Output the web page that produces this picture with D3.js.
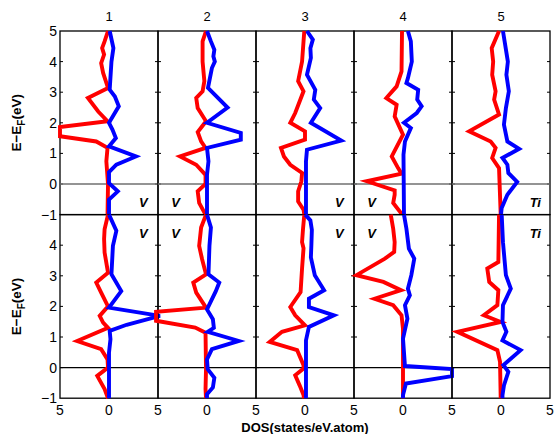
<!DOCTYPE html>
<html>
<head>
<meta charset="utf-8">
<script src="https://cdn.jsdelivr.net/npm/d3@7"></script>
<style>
  body { margin: 0; background: #fff; }
  text { font-family: "Liberation Sans", Arial, sans-serif; }
</style>
</head>
<body>
<div id="chart"></div>
<script>
// column titles, element labels, tick values
const columns = ["1", "2", "3", "4", "5"];
const elements = ["V", "V", "V", "V", "Ti"];
const energyTicks = [-1, 0, 1, 2, 3, 4, 5];
const dosTicks = [-5, 0, 5];

// DOS curves as [E - E_F, DOS] pairs; "up" is blue (right), "dn" is red (mirrored left)
// top row
const up11 = [[5,0.07],[4.44,0.45],[4.0,0.25],[3.08,0.07],[2.86,0.6],[2.54,1.0],[2.0,0.0],[1.78,0.35],[1.5,0.7],[1.23,0.0],[0.9,2.75],[0.63,0.75],[0.39,0.0],[0.03,0.0],[-0.24,0.9],[-0.51,0.0],[-1,0.0]];
const dn11 = [[5,0.1],[4.66,0.45],[4.44,0.7],[4.23,0.5],[3.95,0.8],[3.63,0.6],[3.14,0.1],[2.81,2.15],[2.37,1.1],[2.05,0.15],[1.86,5.0],[1.56,5.0],[1.39,1.3],[1.18,0.15],[0.74,0.27],[0,0.1],[-1,0.15]];
const up12 = [[5,0.0],[4.66,0.4],[4.39,0.75],[4.17,0.65],[4.0,0.8],[3.79,0.5],[3.14,0.1],[2.5,2.1],[2.0,0.0],[1.67,3.45],[1.45,3.45],[1.18,0.0],[0.74,0.15],[0.3,0.0],[-1,0.0]];
const dn12 = [[5,0.1],[4.66,0.45],[4.0,0.45],[3.36,0.27],[3.03,0.45],[2.81,1.1],[2.48,0.95],[2.05,0.1],[1.7,0.95],[1.39,0.6],[1.18,0.15],[0.9,2.75],[0.63,1.1],[0.3,0.15],[0,0.15],[-0.24,0.95],[-0.62,0.8],[-1,0.15]];
const up13 = [[5,0.2],[4.72,0.8],[4.44,0.55],[4.12,0.6],[3.57,0.2],[3.08,1.05],[2.76,0.9],[2.48,1.55],[2.0,0.6],[1.42,3.7],[1.12,0.2],[0.74,0.1],[-1,0.1]];
const dn13 = [[5,0.07],[4.66,0.15],[4.0,0.3],[3.36,0.7],[3.03,0.15],[2.32,1.0],[2.0,1.5],[1.72,0.0],[1.45,0.0],[1.18,2.45],[0.9,2.15],[0.63,1.5],[0.36,0.3],[0.09,0.37],[-0.24,0.7],[-0.57,0.7],[-0.84,0.15],[-1,0.07]];
const up14 = [[5,0.5],[4.66,0.8],[4.0,0.9],[3.46,0.5],[3.3,0.35],[3.08,1.55],[2.76,1.45],[2.54,1.9],[2.32,1.4],[2.0,0.1],[1.83,0.8],[1.39,0.2],[0.96,0.05],[-1,0.1]];
const dn14 = [[5,0.1],[3.68,0.15],[3.19,0.65],[2.81,1.7],[2.59,0.65],[2.21,0.85],[1.61,0.0],[0.9,1.15],[0.52,0.5],[0.34,0.15],[0.09,3.7],[-0.21,0.85],[-0.35,0.85],[-0.62,1.0],[-0.95,0.2],[-1,0.2]];
const up15 = [[5,0.2],[4.0,0.7],[3.57,0.55],[3.03,0.8],[2.48,0.5],[1.94,0.3],[1.39,0.65],[1.15,1.85],[0.85,0.15],[0.63,0.65],[0.36,0.75],[0.07,1.65],[-0.35,0.65],[-0.78,0.07],[-1,0.0]];
const dn15 = [[5,0.2],[4.44,0.95],[4.0,0.8],[3.57,0.9],[3.03,0.55],[2.76,0.7],[2.27,0.2],[1.72,3.25],[1.39,1.05],[1.18,0.55],[0.85,0.9],[0.52,0.2],[-1,0.03]];
// bottom row
const up21 = [[5,0.0],[4.47,0.75],[3.98,0.4],[3.05,0.25],[2.5,1.25],[1.96,0.0],[1.69,5.2],[1.4,1.8],[1.2,0.07],[0.93,0.15],[0.49,0.0],[-1,0.0]];
const dn21 = [[5,0.1],[4.52,0.45],[4.2,0.5],[3.76,0.45],[3.1,0.1],[2.78,1.3],[2.45,0.8],[2.0,0.1],[1.69,0.95],[1.47,0.6],[1.3,0.1],[0.87,3.25],[0.6,0.8],[0.27,0.15],[0,0.1],[-0.27,1.2],[-0.7,0.45],[-1,0.1]];
const up22 = [[5,0.0],[4.58,0.4],[3.98,0.25],[3.05,0.15],[2.78,1.25],[2.5,0.9],[1.9,0.0],[1.58,0.6],[1.3,0.7],[1.17,0.07],[0.87,3.25],[0.6,0.5],[0.27,0.0],[-0.05,0.07],[-0.33,0.75],[-0.65,0.6],[-0.87,0.0],[-1,0.0]];
const dn22 = [[5,0.1],[4.58,0.6],[3.98,0.8],[3.54,0.5],[3.05,0.1],[2.78,1.4],[2.45,1.1],[1.96,0.1],[1.82,5.2],[1.53,5.2],[1.31,1.2],[1.14,0.15],[-0.05,0.1],[-0.7,0.15],[-1,0.1]];
const up23 = [[5,0.03],[4.81,0.55],[4.5,0.7],[4.0,0.65],[3.6,0.6],[3.02,1.0],[2.53,1.95],[2.25,0.4],[1.98,0.4],[1.71,2.95],[1.33,0.4],[0.89,0.1],[-1,0.1]];
const dn23 = [[5,0.07],[4.54,0.2],[4.1,0.3],[3.9,0.15],[3.24,0.3],[2.47,0.45],[1.98,1.5],[1.71,1.0],[1.38,0.0],[1.17,2.35],[0.84,3.6],[0.57,0.8],[0.08,0.15],[-0.03,0.15],[-0.25,1.0],[-0.58,0.55],[-0.9,0.15],[-1,0.1]];
const up24 = [[5,0.1],[4.54,0.35],[3.89,0.6],[3.56,1.15],[3.02,0.85],[2.58,0.5],[2.36,0.7],[2.04,0.2],[1.6,0.45],[0.95,0.0],[0.05,0.2],[-0.05,5.0],[-0.28,5.0],[-0.52,0.3],[-0.9,0.0],[-1,0.0]];
const dn24 = [[5,1.25],[4.54,1.0],[4.1,0.85],[3.78,0.9],[3.56,1.85],[3.02,4.75],[2.8,2.0],[2.53,0.2],[2.25,2.9],[2.04,1.0],[1.71,0.15],[1.27,0.0],[-1,0.0]];
const up25 = [[5,0.07],[4.1,0.2],[3.02,0.5],[2.58,1.0],[2.04,0.2],[1.49,0.15],[1.17,0.55],[0.89,0.15],[0.57,2.0],[0.08,0.25],[-0.14,0.75],[-0.58,0.3],[-0.9,0.15],[-1,0.15]];
const dn25 = [[5,0.2],[3.45,0.27],[3.24,1.4],[2.8,1.2],[2.53,0.27],[2.04,0.37],[1.71,1.75],[1.49,0.03],[1.17,4.45],[0.57,0.37],[0.19,0.1],[-1,0.03]];

const panels = [
  [[up11, dn11], [up12, dn12], [up13, dn13], [up14, dn14], [up15, dn15]],
  [[up21, dn21], [up22, dn22], [up23, dn23], [up24, dn24], [up25, dn25]]
];

const width = 555, height = 434;
const margin = { left: 60, top: 31 };
const pw = 98, ph = 183.6;

const svg = d3.select("#chart").append("svg")
  .attr("width", width)
  .attr("height", height);

const x = d3.scaleLinear().domain([-5, 5]).range([0, pw]);
const y = d3.scaleLinear().domain([-1, 5]).range([ph, 0]);

const line = d3.line()
  .x(d => x(d[1]))
  .y(d => y(d[0]));

panels.forEach((row, r) => {
  row.forEach((pair, c) => {
    const g = svg.append("g")
      .attr("transform", "translate(" + (margin.left + c * pw) + "," + (margin.top + r * ph) + ")");

    g.append("rect")
      .attr("width", pw)
      .attr("height", ph)
      .attr("fill", "none")
      .attr("stroke", "#000")
      .attr("stroke-width", 1.3);

    // inward ticks on both sides
    energyTicks.slice(1, -1).forEach(t => {
      g.append("line").attr("x1", 0).attr("x2", 3).attr("y1", y(t)).attr("y2", y(t))
        .attr("stroke", "#000");
      g.append("line").attr("x1", pw - 3).attr("x2", pw).attr("y1", y(t)).attr("y2", y(t))
        .attr("stroke", "#000");
    });

    // Fermi level
    g.append("line")
      .attr("x1", 0).attr("x2", pw)
      .attr("y1", y(0)).attr("y2", y(0))
      .attr("stroke", r === 0 ? "#707070" : "#000")
      .attr("stroke-width", r === 0 ? 1.6 : 1.1);

    // spin down mirrored to the left
    g.append("path")
      .datum(pair[1].map(d => [d[0], -d[1]]))
      .attr("d", line)
      .attr("fill", "none")
      .attr("stroke", "#ff0000")
      .attr("stroke-width", 3.9);

    g.append("path")
      .datum(pair[0])
      .attr("d", line)
      .attr("fill", "none")
      .attr("stroke", "#0000ff")
      .attr("stroke-width", 3.9);

    // element label
    const right = c % 2 === 0;
    g.append("text")
      .attr("x", x(right ? 3.5 : -3.2))
      .attr("y", y(r === 0 ? -0.6 : 4.4))
      .attr("dy", "0.35em")
      .attr("text-anchor", "middle")
      .style("font-size", "13px")
      .style("font-weight", "bold")
      .style("font-style", "italic")
      .text(elements[c]);

    if (r === 0) {
      g.append("text")
        .attr("x", x(0))
        .attr("y", -10)
        .attr("text-anchor", "middle")
        .style("font-size", "13px")
        .text(columns[c]);
    }

    if (c === 0) {
      const ticks = r === 0 ? energyTicks : energyTicks.slice(0, -1);
      g.selectAll(".ylab")
        .data(ticks)
        .enter()
        .append("text")
        .attr("x", -3)
        .attr("y", d => y(d))
        .attr("dy", "0.36em")
        .attr("text-anchor", "end")
        .style("font-size", "14px")
        .text(d => d < 0 ? "\u2212" + Math.abs(d) : d);

      const lab = g.append("text")
        .attr("transform", "translate(-39," + (ph / 2) + ") rotate(-90)")
        .attr("text-anchor", "middle")
        .style("font-size", "13.5px")
        .style("font-weight", "bold");
      lab.append("tspan").text("E\u2212E");
      lab.append("tspan").attr("dy", 4).style("font-size", "10px").text("F");
      lab.append("tspan").attr("dy", -4).text("(eV)");
    }

    if (r === 1) {
      const ticks = c === 0 ? dosTicks : dosTicks.slice(1);
      g.selectAll(".xlab")
        .data(ticks)
        .enter()
        .append("text")
        .attr("x", d => x(d))
        .attr("y", ph + 17)
        .attr("text-anchor", "middle")
        .style("font-size", "14px")
        .text(d => Math.abs(d));
    }
  });
});

svg.append("text")
  .attr("x", 305)
  .attr("y", 432)
  .attr("text-anchor", "middle")
  .style("font-size", "13px")
  .style("font-weight", "bold")
  .text("DOS(states/eV.atom)");
</script>
</body>
</html>
